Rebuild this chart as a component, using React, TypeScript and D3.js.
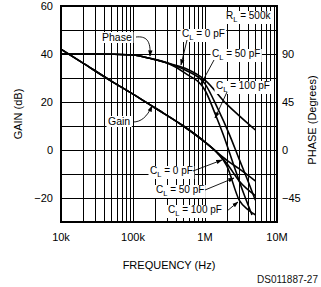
import React, { useEffect, useRef } from 'react';
import * as d3 from 'd3';

// frequency in Hz, gain in dB, phase in degrees
const gainFreq0 = [1e4, 2e4, 5e4, 1e5, 2e5, 5e5, 1e6, 1.5e6, 2e6, 3e6, 5e6];
const gain0pF = [42, 36.3, 28.7, 23.3, 17.6, 10, 3.3, -1.2, -4.2, -7.9, -12.9];
const gainFreq50 = [1e4, 2e4, 5e4, 1e5, 2e5, 5e5, 1e6, 1.5e6, 2e6, 3e6, 5e6];
const gain50pF = [42, 36.3, 28.7, 23.3, 17.6, 10, 3.3, -1.3, -5.5, -13, -19];
const gainFreq100 = [1e4, 2e4, 5e4, 1e5, 2e5, 5e5, 1e6, 1.5e6, 2e6, 3e6, 4e6, 5e6];
const gain100pF = [42, 36.3, 28.7, 23.3, 17.6, 10, 3.3, -1.4, -6.5, -21, -25, -27];

const phaseFreq0 = [1e4, 3e4, 1e5, 1.7e5, 3e5, 5.3e5, 1e6, 2e6, 3e6, 5e6];
const phase0pF = [90, 90, 89, 86, 81.5, 76.6, 65.6, 43, 32, 18.75];
const phaseFreq50 = [1e4, 3e4, 1e5, 1.7e5, 3e5, 5.3e5, 1e6, 1.5e6, 2.2e6, 3e6, 4e6, 5e6];
const phase50pF = [90, 90, 89, 86, 81.5, 75, 62, 39, 14, -9, -30, -47];
const phaseFreq100 = [1e4, 3e4, 1e5, 1.7e5, 3e5, 5.3e5, 1e6, 1.4e6, 1.8e6, 2.5e6, 3.5e6, 4.5e6];
const phase100pF = [90, 90, 89, 86, 81.5, 72, 56, 33, 14, -14, -42, -61];

const freqTicks = [1e4, 1e5, 1e6, 1e7];
const freqTickLabels = ['10k', '100k', '1M', '10M'];
const gainTicks = [60, 40, 20, 0, -20];
const phaseTicks = [90, 45, 0, -45];

const FONT = '"Liberation Sans", Arial, sans-serif';

export default function App() {
  const svgRef = useRef<SVGSVGElement>(null);

  useEffect(() => {
    if (!svgRef.current) return;
    const width = 321;
    const height = 287;
    const margin = { top: 6, right: 44, bottom: 65, left: 61 };

    d3.select(svgRef.current).selectAll('*').remove();
    const svg = d3.select(svgRef.current).attr('width', width).attr('height', height);

    const x = d3.scaleLog().domain([1e4, 1e7]).range([margin.left, width - margin.right]);
    const yGain = d3.scaleLinear().domain([-30, 60]).range([height - margin.bottom, margin.top]);
    const yPhase = d3.scaleLinear().domain([-67.5, 135]).range([height - margin.bottom, margin.top]);
    const [x0, x1] = x.range();
    const [yb, yt] = yGain.range();

    svg.append('defs').append('marker')
      .attr('id', 'arr')
      .attr('viewBox', '0 0 10 10')
      .attr('refX', 9).attr('refY', 5)
      .attr('markerWidth', 7).attr('markerHeight', 7)
      .attr('orient', 'auto-start-reverse')
      .append('path').attr('d', 'M0,1.5L10,5L0,8.5Z').attr('fill', '#000');

    // grid
    const grid = svg.append('g').attr('stroke', '#000').attr('stroke-width', 1);
    const vLines: number[] = [];
    for (let e = 4; e < 7; e++) for (let k = 1; k < 10; k++) vLines.push(k * Math.pow(10, e));
    grid.selectAll('.v').data(vLines).enter().append('line')
      .attr('x1', d => Math.round(x(d)) + 0.5).attr('x2', d => Math.round(x(d)) + 0.5)
      .attr('y1', yt).attr('y2', yb);
    grid.selectAll('.h').data(d3.range(-30, 61, 10)).enter().append('line')
      .attr('x1', x0).attr('x2', x1)
      .attr('y1', d => Math.round(yGain(d)) + 0.5).attr('y2', d => Math.round(yGain(d)) + 0.5);
    svg.append('rect').attr('x', x0).attr('y', yt).attr('width', x1 - x0).attr('height', yb - yt)
      .attr('fill', 'none').attr('stroke', '#000').attr('stroke-width', 2);

    // curves
    const gLine = (fs: number[], vs: number[]) =>
      d3.line<number>().x((_, i) => x(fs[i])).y(d => yGain(d)).curve(d3.curveMonotoneX)(vs);
    const pLine = (fs: number[], vs: number[]) =>
      d3.line<number>().x((_, i) => x(fs[i])).y(d => yPhase(d)).curve(d3.curveMonotoneX)(vs);
    const curves = svg.append('g').attr('fill', 'none').attr('stroke', '#000').attr('stroke-width', 1.6);
    curves.append('path').attr('d', gLine(gainFreq0, gain0pF));
    curves.append('path').attr('d', gLine(gainFreq50, gain50pF));
    curves.append('path').attr('d', gLine(gainFreq100, gain100pF));
    curves.append('path').attr('d', pLine(phaseFreq0, phase0pF));
    curves.append('path').attr('d', pLine(phaseFreq50, phase50pF));
    curves.append('path').attr('d', pLine(phaseFreq100, phase100pF));

    // labels with white boxes
    const label = (tx: number, ty: number, parts: [string, boolean][], size = 10) => {
      const g = svg.append('g');
      const t = g.append('text').attr('x', tx).attr('y', ty)
        .attr('font-family', FONT).attr('font-size', size).attr('fill', '#000');
      parts.forEach(([s, sub], i) => {
        const sp = t.append('tspan').text(s);
        if (sub) sp.attr('font-size', size * 0.75).attr('dy', 3);
        else if (i > 0) sp.attr('dy', -3);
      });
      const bb = (t.node() as SVGTextElement).getBBox();
      g.insert('rect', 'text').attr('x', bb.x - 1.5).attr('y', bb.y + 1).attr('width', bb.width + 3)
        .attr('height', bb.height - 1).attr('fill', '#fff');
    };
    const arrow = (d: string) => {
      svg.append('path').attr('d', d).attr('fill', 'none').attr('stroke', '#000')
        .attr('stroke-width', 0.9).attr('marker-end', 'url(#arr)');
    };

    label(102, 41, [['Phase', false]], 10.5);
    arrow('M136,37 C146,36 151,40 150,56');
    label(108, 125, [['Gain', false]], 10.5);
    arrow('M133,122 C141,122 147,117 152,106');
    label(226, 19, [['R', false], ['L', true], [' = 500k', false]]);
    label(182, 37, [['C', false], ['L', true], [' = 0 pF', false]]);
    arrow('M187,40 L181,65');
    label(212, 57, [['C', false], ['L', true], [' = 50 pF', false]]);
    arrow('M214,60 L201,84');
    label(216, 89, [['C', false], ['L', true], [' = 100 pF', false]]);
    arrow('M227,92 L215,118');
    label(150, 174, [['C', false], ['L', true], [' = 0 pF', false]]);
    arrow('M193,171 L222,160');
    label(156, 193, [['C', false], ['L', true], [' = 50 pF', false]]);
    arrow('M205,190 L234,178');
    label(168, 213, [['C', false], ['L', true], [' = 100 pF', false]]);
    arrow('M227,211 L238,202');

    // tick labels
    const txt = svg.append('g').attr('font-family', FONT).attr('font-size', 11).attr('fill', '#000');
    txt.selectAll('.xt').data(freqTicks).enter().append('text')
      .attr('x', d => x(d)).attr('y', 241).attr('text-anchor', 'middle')
      .text((_, i) => freqTickLabels[i]);
    txt.selectAll('.yl').data(gainTicks).enter().append('text')
      .attr('x', 53).attr('y', d => yGain(d) + 4).attr('text-anchor', 'end')
      .text(d => (d < 0 ? '\u2212' + Math.abs(d) : String(d)));
    txt.selectAll('.yr').data(phaseTicks).enter().append('text')
      .attr('x', 282).attr('y', d => yPhase(d) + 4).attr('text-anchor', 'start')
      .text(d => (d < 0 ? '\u2212' + Math.abs(d) : String(d)));

    txt.append('text').attr('x', (x0 + x1) / 2).attr('y', 269).attr('text-anchor', 'middle')
      .text('FREQUENCY (Hz)');
    txt.append('text').attr('transform', `translate(22,${(yt + yb) / 2}) rotate(-90)`)
      .attr('text-anchor', 'middle').text('GAIN (dB)');
    txt.append('text').attr('transform', `translate(316,${(yt + yb) / 2 + 6}) rotate(-90)`)
      .attr('text-anchor', 'middle').text('PHASE (Degrees)');
    txt.append('text').attr('x', 318).attr('y', 283).attr('text-anchor', 'end')
      .attr('font-size', 10).attr('fill', '#111').text('DS011887-27');
  }, []);

  return (
    <svg ref={svgRef} style={{ position: 'absolute', left: 0, top: 0, background: '#fff' }} />
  );
}
